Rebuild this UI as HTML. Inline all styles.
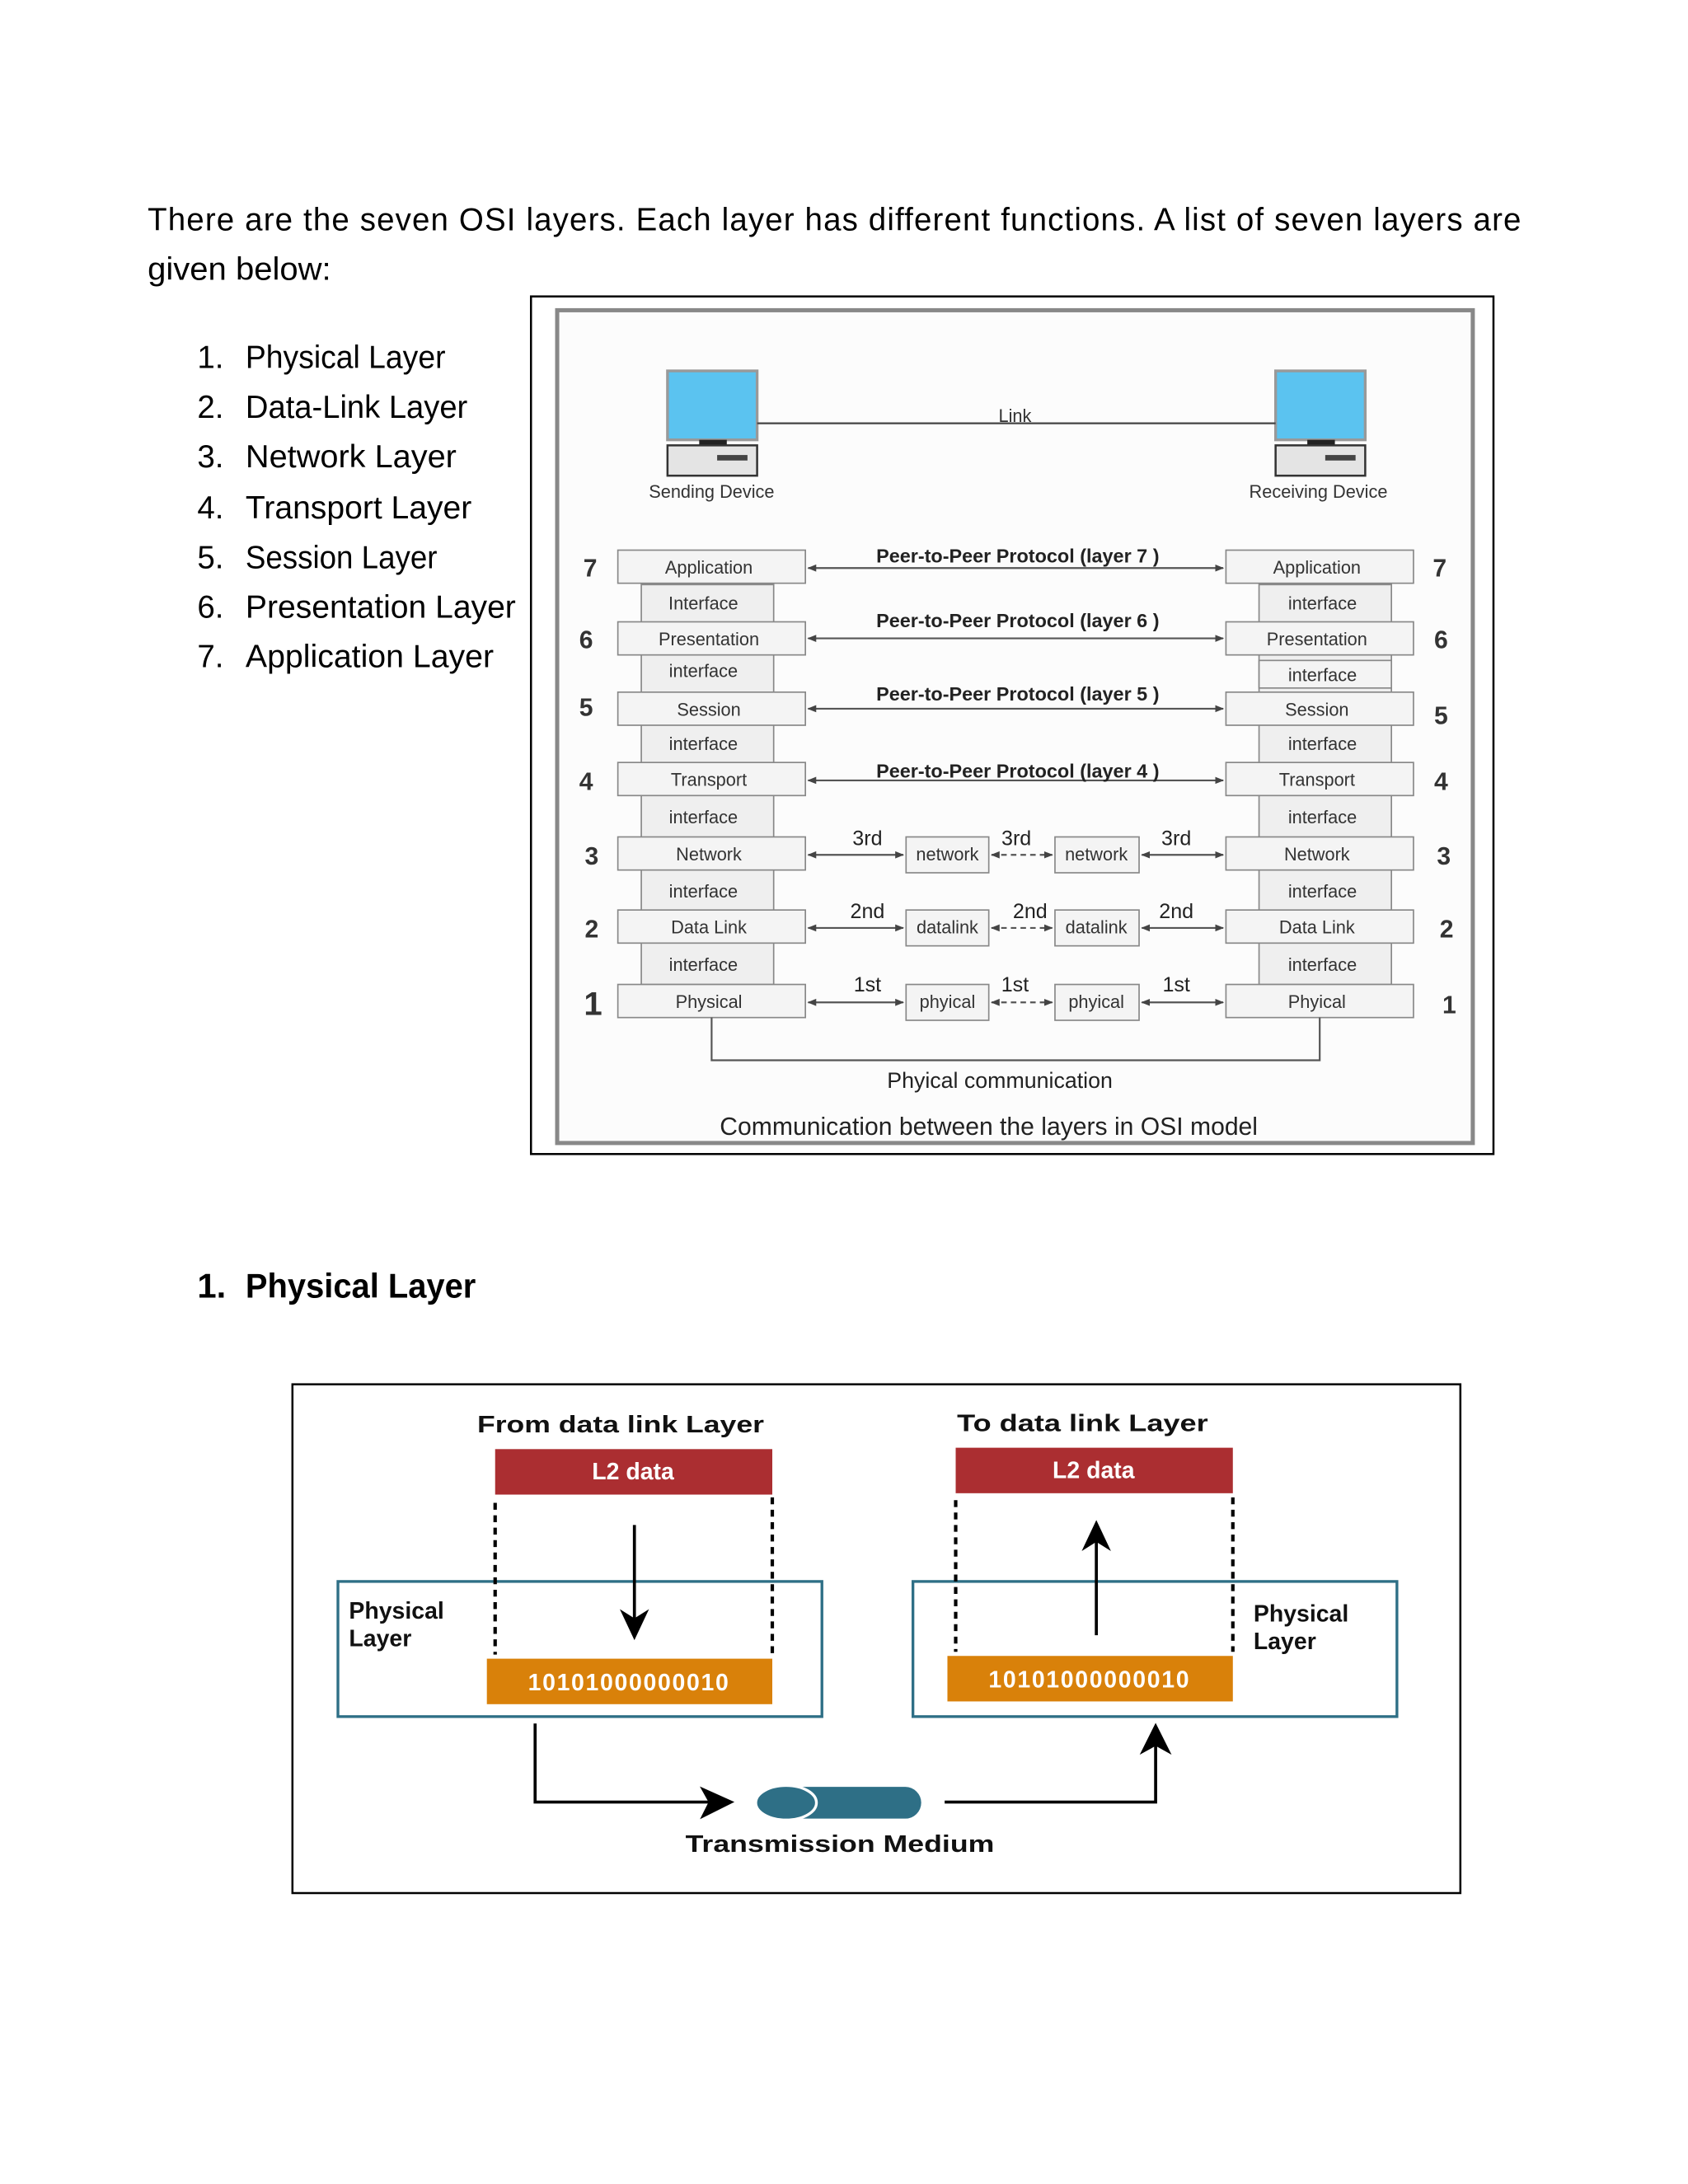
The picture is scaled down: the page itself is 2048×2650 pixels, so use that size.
<!DOCTYPE html>
<html><head><meta charset="utf-8"><style>
html,body{margin:0;padding:0;background:#fff}
svg{display:block}
.b{font-family:"Liberation Sans",sans-serif}
</style></head><body>
<svg width="2048" height="2650" viewBox="0 0 1224 1584" xmlns="http://www.w3.org/2000/svg" class="b">
<defs>
<marker id="ah" viewBox="0 0 10 10" refX="9" refY="5" markerWidth="5" markerHeight="5" orient="auto-start-reverse"><path d="M0,1 L10,5 L0,9z" fill="#444"/></marker>
<marker id="bh" viewBox="0 0 10 10" refX="8" refY="5" markerWidth="8" markerHeight="8" markerUnits="userSpaceOnUse" orient="auto"><path d="M0,0 L10,5 L0,10 L3,5z" fill="#000"/></marker>
</defs>
<rect width="1224" height="1584" fill="#fff"/>
<g font-size="23" fill="#000">
<text x="107" y="167" textLength="996" lengthAdjust="spacing">There are the seven OSI layers. Each layer has different functions. A list of seven layers are</text>
<text x="107" y="203" textLength="133" lengthAdjust="spacingAndGlyphs">given below:</text>
<g>
<text x="143" y="267">1.</text><text x="178" y="267" textLength="145" lengthAdjust="spacingAndGlyphs">Physical Layer</text>
<text x="143" y="303">2.</text><text x="178" y="303" textLength="161" lengthAdjust="spacingAndGlyphs">Data-Link Layer</text>
<text x="143" y="339">3.</text><text x="178" y="339" textLength="153" lengthAdjust="spacingAndGlyphs">Network Layer</text>
<text x="143" y="376">4.</text><text x="178" y="376" textLength="164" lengthAdjust="spacingAndGlyphs">Transport Layer</text>
<text x="143" y="412">5.</text><text x="178" y="412" textLength="139" lengthAdjust="spacingAndGlyphs">Session Layer</text>
<text x="143" y="448">6.</text><text x="178" y="448" textLength="196" lengthAdjust="spacingAndGlyphs">Presentation Layer</text>
<text x="143" y="484">7.</text><text x="178" y="484" textLength="180" lengthAdjust="spacingAndGlyphs">Application Layer</text>
</g>
</g>
<!-- OSI diagram -->
<rect x="385" y="215" width="698" height="622" fill="#fff" stroke="#000" stroke-width="1.5"/>
<rect x="404" y="225" width="664" height="604" fill="#fcfcfc" stroke="#888" stroke-width="3"/>
<g>
<rect x="484" y="269" width="65" height="50" fill="#5bc3f0" stroke="#999" stroke-width="2"/>
<rect x="507" y="319" width="20" height="4" fill="#222"/>
<rect x="484" y="323" width="65" height="22" fill="#e4e4e4" stroke="#333" stroke-width="1.5"/>
<rect x="520" y="330" width="22" height="4" fill="#444"/>
<rect x="925" y="269" width="65" height="50" fill="#5bc3f0" stroke="#999" stroke-width="2"/>
<rect x="948" y="319" width="20" height="4" fill="#222"/>
<rect x="925" y="323" width="65" height="22" fill="#e4e4e4" stroke="#333" stroke-width="1.5"/>
<rect x="961" y="330" width="22" height="4" fill="#444"/>
<line x1="549" y1="307" x2="925" y2="307" stroke="#444" stroke-width="1.3"/>
<text x="736" y="306" font-size="13" text-anchor="middle" fill="#333">Link</text>
<text x="516" y="361" font-size="13" text-anchor="middle" fill="#333">Sending Device</text>
<text x="956" y="361" font-size="13" text-anchor="middle" fill="#333">Receiving Device</text>
</g>
<g font-size="13" fill="#333" text-anchor="middle" stroke-width="1">
<!-- interface boxes left/right -->
<g fill="#efefef" stroke="#888">
<rect x="465" y="424" width="96" height="290"/>
<rect x="913" y="424" width="96" height="290"/>
</g>
<g fill="#f4f4f4" stroke="#888">
<rect x="448" y="399" width="136" height="24"/><rect x="448" y="451" width="136" height="24"/><rect x="448" y="502" width="136" height="24"/><rect x="448" y="553" width="136" height="24"/><rect x="448" y="607" width="136" height="24"/><rect x="448" y="660" width="136" height="24"/><rect x="448" y="714" width="136" height="24"/>
<rect x="889" y="399" width="136" height="24"/><rect x="889" y="451" width="136" height="24"/><rect x="913" y="479" width="96" height="20"/><rect x="889" y="502" width="136" height="24"/><rect x="889" y="553" width="136" height="24"/><rect x="889" y="607" width="136" height="24"/><rect x="889" y="660" width="136" height="24"/><rect x="889" y="714" width="136" height="24"/>
<rect x="657" y="607" width="60" height="26"/><rect x="765" y="607" width="61" height="26"/>
<rect x="657" y="660" width="60" height="26"/><rect x="765" y="660" width="61" height="26"/>
<rect x="657" y="714" width="60" height="26"/><rect x="765" y="714" width="61" height="26"/>
</g>
<text x="514" y="416">Application</text><text x="510" y="442">Interface</text><text x="514" y="468">Presentation</text><text x="510" y="491">interface</text><text x="514" y="519">Session</text><text x="510" y="544">interface</text><text x="514" y="570">Transport</text><text x="510" y="597">interface</text><text x="514" y="624">Network</text><text x="510" y="651">interface</text><text x="514" y="677">Data Link</text><text x="510" y="704">interface</text><text x="514" y="731">Physical</text>
<text x="955" y="416">Application</text><text x="959" y="442">interface</text><text x="955" y="468">Presentation</text><text x="959" y="494">interface</text><text x="955" y="519">Session</text><text x="959" y="544">interface</text><text x="955" y="570">Transport</text><text x="959" y="597">interface</text><text x="955" y="624">Network</text><text x="959" y="651">interface</text><text x="955" y="677">Data Link</text><text x="959" y="704">interface</text><text x="955" y="731">Phyical</text>
<text x="687" y="624">network</text><text x="795" y="624">network</text>
<text x="687" y="677">datalink</text><text x="795" y="677">datalink</text>
<text x="687" y="731">phyical</text><text x="795" y="731">phyical</text>
</g>
<g font-size="18" font-weight="bold" fill="#333" text-anchor="middle">
<text x="428" y="418">7</text><text x="425" y="470">6</text><text x="425" y="519">5</text><text x="425" y="573">4</text><text x="429" y="627">3</text><text x="429" y="680">2</text><text x="430" y="736" font-size="24">1</text>
<text x="1044" y="418">7</text><text x="1045" y="470">6</text><text x="1045" y="525">5</text><text x="1045" y="573">4</text><text x="1047" y="627">3</text><text x="1049" y="680">2</text><text x="1051" y="735">1</text>
</g>
<g stroke="#555" stroke-width="1.3" fill="none">
<line x1="586" y1="412" x2="887" y2="412" marker-start="url(#ah)" marker-end="url(#ah)"/>
<line x1="586" y1="463" x2="887" y2="463" marker-start="url(#ah)" marker-end="url(#ah)"/>
<line x1="586" y1="514" x2="887" y2="514" marker-start="url(#ah)" marker-end="url(#ah)"/>
<line x1="586" y1="566" x2="887" y2="566" marker-start="url(#ah)" marker-end="url(#ah)"/>
<g>
<line x1="586" y1="620" x2="655" y2="620" marker-start="url(#ah)" marker-end="url(#ah)"/>
<line x1="719" y1="620" x2="763" y2="620" stroke-dasharray="4,3" marker-start="url(#ah)" marker-end="url(#ah)"/>
<line x1="828" y1="620" x2="887" y2="620" marker-start="url(#ah)" marker-end="url(#ah)"/>
<line x1="586" y1="673" x2="655" y2="673" marker-start="url(#ah)" marker-end="url(#ah)"/>
<line x1="719" y1="673" x2="763" y2="673" stroke-dasharray="4,3" marker-start="url(#ah)" marker-end="url(#ah)"/>
<line x1="828" y1="673" x2="887" y2="673" marker-start="url(#ah)" marker-end="url(#ah)"/>
<line x1="586" y1="727" x2="655" y2="727" marker-start="url(#ah)" marker-end="url(#ah)"/>
<line x1="719" y1="727" x2="763" y2="727" stroke-dasharray="4,3" marker-start="url(#ah)" marker-end="url(#ah)"/>
<line x1="828" y1="727" x2="887" y2="727" marker-start="url(#ah)" marker-end="url(#ah)"/>
</g>
<polyline points="516,738 516,769 957,769 957,738"/>
</g>
<g font-size="14" fill="#222" text-anchor="middle" font-weight="bold">
<text x="738" y="408">Peer-to-Peer Protocol (layer 7 )</text>
<text x="738" y="455">Peer-to-Peer Protocol (layer 6 )</text>
<text x="738" y="508">Peer-to-Peer Protocol (layer 5 )</text>
<text x="738" y="564">Peer-to-Peer Protocol (layer 4 )</text>
</g>
<g font-size="15" fill="#222" text-anchor="middle">
<text x="629" y="613">3rd</text><text x="737" y="613">3rd</text><text x="853" y="613">3rd</text>
<text x="629" y="666">2nd</text><text x="747" y="666">2nd</text><text x="853" y="666">2nd</text>
<text x="629" y="719">1st</text><text x="736" y="719">1st</text><text x="853" y="719">1st</text>
<text x="725" y="789" font-size="16">Phyical communication</text>
<text x="717" y="823" font-size="18">Communication between  the layers in OSI model</text>
</g>
<!-- heading -->
<g font-size="25" font-weight="bold"><text x="143" y="941">1.</text><text x="178" y="941" textLength="167" lengthAdjust="spacingAndGlyphs">Physical  Layer</text></g>
<!-- physical diagram -->
<rect x="212" y="1004" width="847" height="369" fill="#fff" stroke="#000" stroke-width="1.5"/>
<g font-weight="bold" font-size="17" fill="#111">
<text x="450" y="1039" text-anchor="middle" textLength="208" lengthAdjust="spacingAndGlyphs">From data link Layer</text>
<text x="785" y="1038" text-anchor="middle" textLength="182" lengthAdjust="spacingAndGlyphs">To data link Layer</text>
</g>
<rect x="245" y="1147" width="351" height="98" fill="none" stroke="#2e6f86" stroke-width="2"/>
<rect x="662" y="1147" width="351" height="98" fill="none" stroke="#2e6f86" stroke-width="2"/>
<rect x="359" y="1051" width="201" height="33" fill="#ab2e31"/>
<rect x="693" y="1050" width="201" height="33" fill="#ab2e31"/>
<rect x="353" y="1203" width="207" height="33" fill="#d9810a"/>
<rect x="687" y="1201" width="207" height="33" fill="#d9810a"/>
<g font-weight="bold" font-size="17" fill="#fff" text-anchor="middle">
<text x="459" y="1073">L2 data</text><text x="793" y="1072">L2 data</text>
<text x="456" y="1226" letter-spacing="1">10101000000010</text><text x="790" y="1224" letter-spacing="1">10101000000010</text>
</g>
<g stroke="#000" stroke-width="2.5" stroke-dasharray="5,4" fill="none">
<line x1="359" y1="1090" x2="359" y2="1200"/><line x1="560" y1="1086" x2="560" y2="1200"/>
<line x1="693" y1="1088" x2="693" y2="1198"/><line x1="894" y1="1086" x2="894" y2="1198"/>
</g>
<g stroke="#000" stroke-width="2.2" fill="none">
<line x1="460" y1="1106" x2="460" y2="1180"/>
<path d="M452,1170 L460,1187 L468,1170 L460,1175z" fill="#000"/>
<line x1="795" y1="1186" x2="795" y2="1112"/>
<path d="M787,1122 L795,1105 L803,1122 L795,1117z" fill="#000"/>
<polyline points="388,1250 388,1307 520,1307"/>
<path d="M510,1298 L530,1307 L510,1317 L515,1307z" fill="#000"/>
<polyline points="685,1307 838,1307 838,1262"/>
<path d="M829,1270 L838,1252 L847,1270 L838,1265z" fill="#000"/>
</g>
<rect x="565" y="1296" width="103" height="23" rx="11.5" fill="#2e6f86"/>
<ellipse cx="570" cy="1307.5" rx="22" ry="12.5" fill="#2e6f86" stroke="#fff" stroke-width="2"/>
<g font-weight="bold" font-size="17" fill="#111">
<text x="253" y="1174">Physical</text><text x="253" y="1194">Layer</text>
<text x="909" y="1176">Physical</text><text x="909" y="1196">Layer</text>
<text x="609" y="1343" text-anchor="middle" textLength="224" lengthAdjust="spacingAndGlyphs">Transmission Medium</text>
</g>
</svg>
</body></html>
